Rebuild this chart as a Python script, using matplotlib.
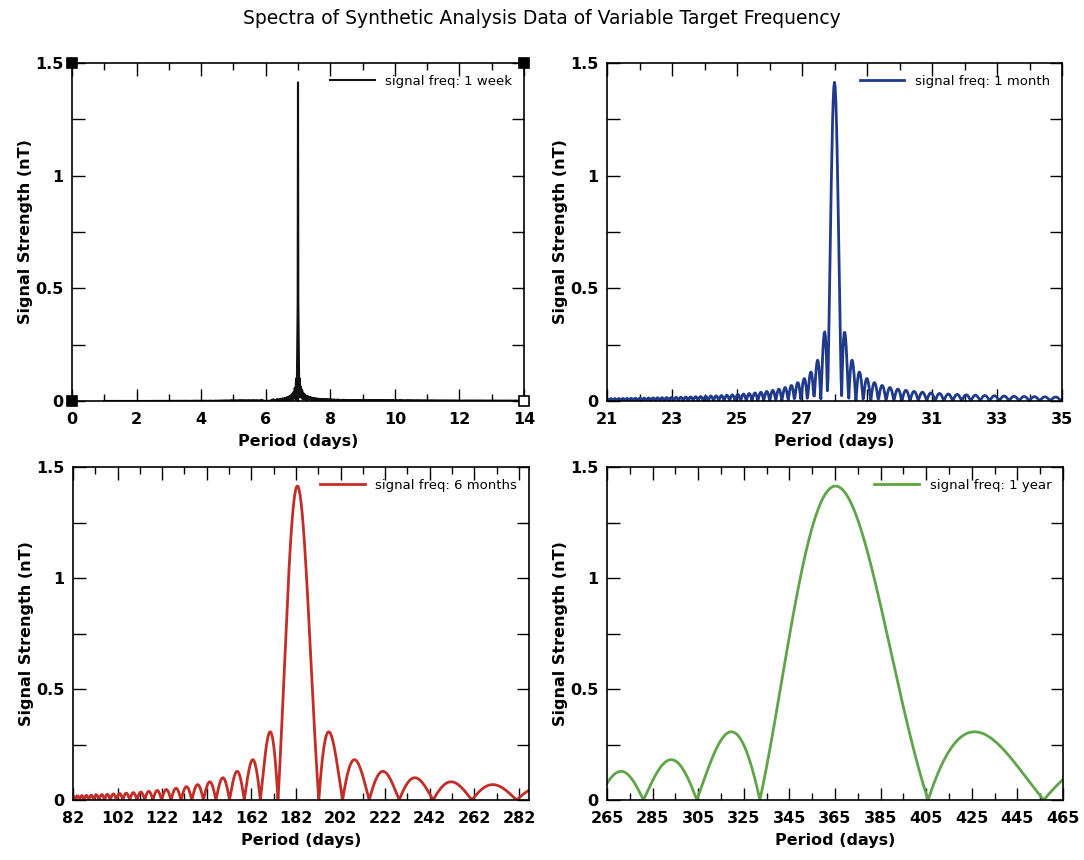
import numpy as np
import matplotlib
matplotlib.use("Agg")
import matplotlib.pyplot as plt
from matplotlib.ticker import MultipleLocator, FuncFormatter

# Synthetic record: ten years of a single-frequency oscillation sampled every 6 hours
RECORD_DAYS = 3652.5
SAMPLE_STEP = 0.25
SIGNAL_AMPLITUDE = 1.414  # nT

target_periods = [7.0, 28.0, 182.625, 365.25]
legend_labels = ["signal freq: 1 week", "signal freq: 1 month",
                 "signal freq: 6 months", "signal freq: 1 year"]
line_colors = ["#111111", "#1f3a8a", "#c22d27", "#5fa448"]

# Period grid (days) on which each spectrum is evaluated
grid_start = [1.0, 21.0, 82.0, 265.0]
grid_stop = [14.0, 35.0, 286.5, 465.0]
grid_step = [0.01, 0.02, 0.1, 0.1]

x_limits = [(0, 14), (21, 35), (82, 286.5), (265, 465)]
x_major_step = [2, 2, 20, 20]
x_minor_step = [1, 1, 10, 10]
x_first_tick = [0, 21, 82, 265]

y_ticks = [0, 0.5, 1.0, 1.5]


def amplitude_spectrum(signal, t, periods, chunk=200):
    freqs = 1.0 / periods
    out = np.empty(len(freqs))
    n = len(signal)
    for i in range(0, len(freqs), chunk):
        f = freqs[i:i + chunk]
        kern = np.exp(-2j * np.pi * np.outer(f, t))
        out[i:i + chunk] = np.abs(kern @ signal) / n
    return out


t = np.arange(0.0, RECORD_DAYS, SAMPLE_STEP)

fig = plt.figure(figsize=(10.84, 8.6), dpi=100)
W, H = 1084.0, 860.0
boxes = [(72, 524, 63, 401), (607, 1062, 63, 401),
         (73, 529, 467, 800), (607, 1063, 467, 800)]

fig.text(0.5, 1 - 19 / H,
         "Spectra of Synthetic Analysis Data of Variable Target Frequency",
         ha="center", va="center", fontsize=13.5)

for k in range(4):
    x0, x1, y0, y1 = boxes[k]
    ax = fig.add_axes([x0 / W, 1 - y1 / H, (x1 - x0) / W, (y1 - y0) / H])

    periods = np.arange(grid_start[k], grid_stop[k] + 1e-9, grid_step[k])
    signal = SIGNAL_AMPLITUDE * np.exp(2j * np.pi * t / target_periods[k])
    spec = amplitude_spectrum(signal, t, periods)
    lw = 1.5 if k == 0 else 2.0
    ax.plot(periods, spec, color=line_colors[k], lw=lw, label=legend_labels[k])

    ax.set_xlim(*x_limits[k])
    ax.set_ylim(0, 1.5)
    lo, hi = x_limits[k]
    majors = np.arange(x_first_tick[k], hi + 1e-9, x_major_step[k])
    minors = np.arange(x_first_tick[k], hi + 1e-9, x_minor_step[k])
    ax.set_xticks(majors)
    ax.set_xticks(minors, minor=True)
    ax.xaxis.set_major_formatter(FuncFormatter(lambda v, p: "%g" % v))
    ax.set_yticks(y_ticks)
    ax.yaxis.set_minor_locator(MultipleLocator(0.25))
    ax.yaxis.set_major_formatter(FuncFormatter(lambda v, p: "%g" % v))

    ax.tick_params(which="both", direction="in", top=True, right=True,
                   width=1.0, labelsize=11.5)
    ax.tick_params(axis="x", which="major", length=9, pad=8)
    ax.tick_params(axis="y", which="major", length=9, pad=6)
    ax.tick_params(axis="x", which="minor", length=5)
    ax.tick_params(axis="y", which="minor", length=9)
    for lab in ax.get_xticklabels() + ax.get_yticklabels():
        lab.set_fontweight("bold")
    for s in ax.spines.values():
        s.set_linewidth(1.2)

    ax.set_xlabel("Period (days)", fontsize=11.5, fontweight="bold", labelpad=5)
    ax.set_ylabel("Signal Strength (nT)", fontsize=11.5, fontweight="bold", labelpad=2)

    ax.legend(loc="upper right", frameon=False, fontsize=9.5, handlelength=3.4,
              handletextpad=0.8, borderaxespad=0.5)

    if k == 0:
        # corner markers on the weekly panel
        for cx, cy, fc in [(0, 0, "black"), (0, 1, "black"),
                           (1, 1, "black"), (1, 0, "white")]:
            ax.plot([cx], [cy], marker="s", ms=6.5, mfc=fc, mec="black",
                    mew=1.2, transform=ax.transAxes, clip_on=False, zorder=5)

fig.savefig("out.png", dpi=100)
